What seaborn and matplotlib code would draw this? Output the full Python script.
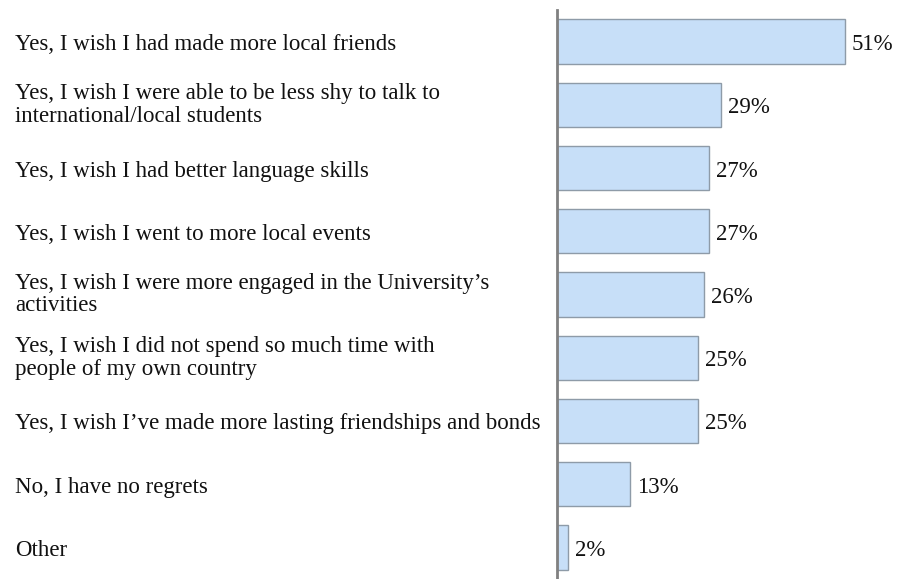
import matplotlib
matplotlib.use("Agg")
import matplotlib.pyplot as plt
import matplotlib.transforms as mtransforms
import seaborn as sns
import pandas as pd

categories = [
    "Yes, I wish I had made more local friends",
    "Yes, I wish I were able to be less shy to talk to\ninternational/local students",
    "Yes, I wish I had better language skills",
    "Yes, I wish I went to more local events",
    "Yes, I wish I were more engaged in the University\u2019s\nactivities",
    "Yes, I wish I did not spend so much time with\npeople of my own country",
    "Yes, I wish I\u2019ve made more lasting friendships and bonds",
    "No, I have no regrets",
    "Other",
]
percentages = [51, 29, 27, 27, 26, 25, 25, 13, 2]
value_labels = ["51%", "29%", "27%", "27%", "26%", "25%", "25%", "13%", "2%"]

df = pd.DataFrame({"answer": categories, "pct": percentages})

sns.set_theme(style="white")
plt.rcParams["font.family"] = ["Liberation Serif", "DejaVu Serif"]

W, H = 899, 579
fig = plt.figure(figsize=(W / 100, H / 100), dpi=100)
ax_left, ax_top = 557, 10
ax = fig.add_axes([ax_left / W, 0, (W - ax_left) / W, (H - ax_top) / H])

sns.barplot(data=df, x="pct", y="answer", order=categories, orient="h",
            color="#C7DFF8", edgecolor="#8E9BA8", linewidth=1.0,
            width=0.7, saturation=1, ax=ax)

ax.set_xlim(0, (W - ax_left) / 5.64)
ax.set_ylim(8.5, -0.5)
ax.set_xlabel("")
ax.set_ylabel("")
ax.set_xticks([])
ax.set_yticks([])
for side in ["top", "right", "bottom"]:
    ax.spines[side].set_visible(False)
ax.spines["left"].set_color("#808080")
ax.spines["left"].set_linewidth(2.0)
ax.patch.set_alpha(0)

FS = 16.5
# category labels on the left, value labels after each bar
trans = mtransforms.blended_transform_factory(fig.transFigure, ax.transData)
for i, (cat, val, lab) in enumerate(zip(categories, percentages, value_labels)):
    dy = 0 if "\n" in cat else -3
    ax.annotate(cat, xy=(15 / W, i), xycoords=trans, xytext=(0, dy),
                textcoords="offset pixels", ha="left", va="center",
                fontsize=FS, color="#111111", linespacing=1.12)
    ax.annotate(lab, xy=(val, i), xytext=(7, -3), textcoords="offset pixels",
                ha="left", va="center", fontsize=FS, color="#111111")

# question heading running off the top edge
fig.text(15 / W, 1 + 7 / H, "what:", ha="left", va="center",
         fontsize=FS, color="#111111")

fig.savefig("out.png", dpi=100)
